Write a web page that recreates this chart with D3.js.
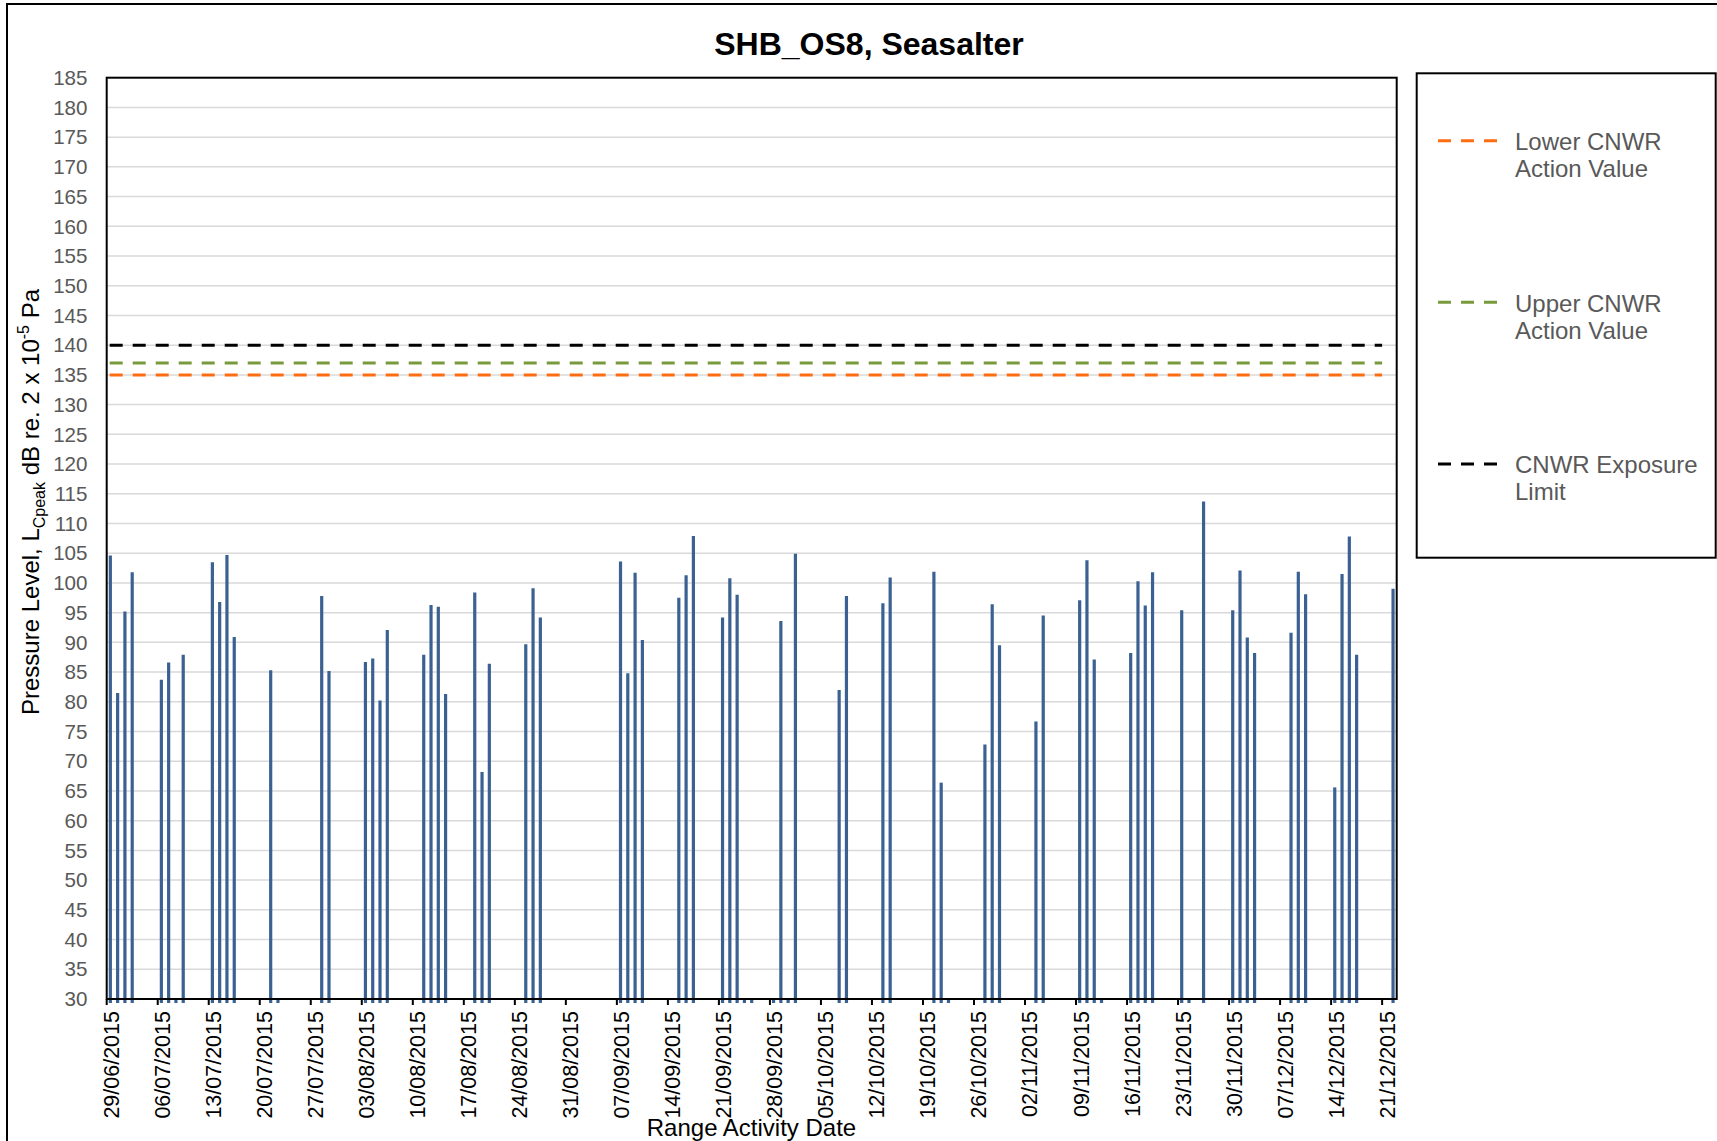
<!DOCTYPE html>
<html>
<head>
<meta charset="utf-8">
<script src="https://cdn.jsdelivr.net/npm/d3@7"></script>
<style>
  body { margin: 0; background: #fff; }
  svg { display: block; font-family: "Liberation Sans", Arial, sans-serif; }
</style>
</head>
<body>
<div id="chart"></div>
<script>
// Daily peak readings (dB) on days with range activity
const activityDates = [
  '2015-06-29', '2015-06-30', '2015-07-01', '2015-07-02', '2015-07-06', '2015-07-07', '2015-07-09',
  '2015-07-13', '2015-07-14', '2015-07-15', '2015-07-16', '2015-07-21', '2015-07-28', '2015-07-29',
  '2015-08-03', '2015-08-04', '2015-08-05', '2015-08-06', '2015-08-11', '2015-08-12', '2015-08-13',
  '2015-08-14', '2015-08-18', '2015-08-19', '2015-08-20', '2015-08-25', '2015-08-26', '2015-08-27',
  '2015-09-07', '2015-09-08', '2015-09-09', '2015-09-10', '2015-09-15', '2015-09-16', '2015-09-17',
  '2015-09-21', '2015-09-22', '2015-09-23', '2015-09-29', '2015-10-01', '2015-10-07', '2015-10-08',
  '2015-10-13', '2015-10-14', '2015-10-20', '2015-10-21', '2015-10-27', '2015-10-28', '2015-10-29',
  '2015-11-03', '2015-11-04', '2015-11-09', '2015-11-10', '2015-11-11', '2015-11-16', '2015-11-17',
  '2015-11-18', '2015-11-19', '2015-11-23', '2015-11-26', '2015-11-30', '2015-12-01', '2015-12-02',
  '2015-12-03', '2015-12-08', '2015-12-09', '2015-12-10', '2015-12-14', '2015-12-15', '2015-12-16',
  '2015-12-17', '2015-12-22'
];
const peakLevels = [
  104.6, 81.5, 95.2, 101.8, 83.7, 86.6, 87.9,
  103.5, 96.8, 104.7, 90.9, 85.3, 97.8, 85.2,
  86.7, 87.3, 80.2, 92.1, 87.9, 96.3, 96.0,
  81.3, 98.4, 68.2, 86.4, 89.7, 99.1, 94.2,
  103.6, 84.8, 101.7, 90.4, 97.5, 101.3, 107.9,
  94.2, 100.8, 98.0, 93.6, 104.9, 82.0, 97.8,
  96.6, 100.9, 101.9, 66.4, 72.8, 96.4, 89.5,
  76.7, 94.5, 97.1, 103.8, 87.1, 88.2, 100.3,
  96.2, 101.8, 95.4, 113.7, 95.4, 102.1, 90.8,
  88.2, 91.6, 101.9, 98.1, 65.6, 101.5, 107.8,
  87.9, 99.0
];
// days logged with no reading (drawn as stubs below the axis)
const quietDates = ['2015-07-08', '2015-07-22', '2015-09-24', '2015-09-25', '2015-09-28', '2015-09-30',
  '2015-10-22', '2015-11-12', '2015-11-24'];

const tickLabels = ['29/06/2015', '06/07/2015', '13/07/2015', '20/07/2015', '27/07/2015', '03/08/2015',
  '10/08/2015', '17/08/2015', '24/08/2015', '31/08/2015', '07/09/2015', '14/09/2015', '21/09/2015',
  '28/09/2015', '05/10/2015', '12/10/2015', '19/10/2015', '26/10/2015', '02/11/2015', '09/11/2015',
  '16/11/2015', '23/11/2015', '30/11/2015', '07/12/2015', '14/12/2015', '21/12/2015'];
const yTickValues = [30, 35, 40, 45, 50, 55, 60, 65, 70, 75, 80, 85, 90, 95, 100, 105,
  110, 115, 120, 125, 130, 135, 140, 145, 150, 155, 160, 165, 170, 175, 180, 185];

const limitNames = [['Lower CNWR', 'Action Value'], ['Upper CNWR', 'Action Value'], ['CNWR Exposure', 'Limit']];
const limitValues = [135, 137, 140];
const limitColors = ['#ff6d12', '#789a3d', '#000000'];
const limitStart = '2015-06-29';
const limitEnd = '2015-12-21';

const axisStart = '2015-06-29';
const axisEnd = '2015-12-23';

// Set up the dimensions
const W = 1717, H = 1141;
const plot = { left: 106.7, top: 77.7, right: 1396.7, bottom: 999 };
const barColor = '#3a6192';

const parseDay = d3.utcParse('%Y-%m-%d');
const parseLabel = d3.utcParse('%d/%m/%Y');
const halfDay = 12 * 3600 * 1000;

const x = d3.scaleUtc()
    .domain([parseDay(axisStart), parseDay(axisEnd)])
    .range([plot.left, plot.right]);
const y = d3.scaleLinear()
    .domain([30, 185])
    .range([plot.bottom, plot.top]);

const svg = d3.select('#chart').append('svg')
    .attr('width', W)
    .attr('height', H);

svg.append('rect').attr('width', W).attr('height', H).attr('fill', '#fff');

// outer chart border (runs off the right and bottom edges)
svg.append('rect')
    .attr('x', 7).attr('y', 4)
    .attr('width', W + 20).attr('height', H + 20)
    .attr('fill', 'none')
    .attr('stroke', '#000')
    .attr('stroke-width', 2);

// title
svg.append('text')
    .attr('x', 869).attr('y', 55)
    .attr('text-anchor', 'middle')
    .attr('font-size', '32px')
    .attr('font-weight', 'bold')
    .attr('fill', '#000')
    .text('SHB_OS8, Seasalter');

// gridlines
svg.append('g')
    .selectAll('line')
    .data(yTickValues.filter(v => v > 30 && v < 185))
    .join('line')
    .attr('x1', plot.left).attr('x2', plot.right)
    .attr('y1', d => y(d)).attr('y2', d => y(d))
    .attr('stroke', '#d9d9d9')
    .attr('stroke-width', 1.5);

// y tick labels
svg.append('g')
    .selectAll('text')
    .data(yTickValues)
    .join('text')
    .attr('x', 87.5)
    .attr('y', d => y(d))
    .attr('dy', '0.35em')
    .attr('text-anchor', 'end')
    .attr('font-size', '20.6px')
    .attr('fill', '#595959')
    .text(d => d);

// limit lines
svg.append('g')
    .selectAll('line')
    .data(limitValues)
    .join('line')
    .attr('x1', x(parseDay(limitStart)) + 3)
    .attr('x2', x(parseDay(limitEnd)))
    .attr('y1', d => y(d)).attr('y2', d => y(d))
    .attr('stroke', (d, i) => limitColors[i])
    .attr('stroke-width', 3)
    .attr('stroke-dasharray', '13,10');

// readings, each a thin column from the axis
const readings = activityDates.map((d, i) => ({ date: parseDay(d), value: peakLevels[i] }))
    .concat(quietDates.map(d => ({ date: parseDay(d), value: 0 })));

svg.append('g')
    .selectAll('line')
    .data(readings)
    .join('line')
    .attr('x1', d => x(+d.date + halfDay))
    .attr('x2', d => x(+d.date + halfDay))
    .attr('y1', plot.bottom + 4)
    .attr('y2', d => y(Math.max(30, d.value)))
    .attr('stroke', barColor)
    .attr('stroke-width', 3.2);

// plot area border
svg.append('rect')
    .attr('x', plot.left).attr('y', plot.top)
    .attr('width', plot.right - plot.left)
    .attr('height', plot.bottom - plot.top)
    .attr('fill', 'none')
    .attr('stroke', '#000')
    .attr('stroke-width', 2);

// x ticks and labels
const xTicks = svg.append('g')
    .selectAll('g')
    .data(tickLabels)
    .join('g');

xTicks.append('line')
    .attr('x1', d => x(parseLabel(d))).attr('x2', d => x(parseLabel(d)))
    .attr('y1', plot.bottom).attr('y2', plot.bottom + 6)
    .attr('stroke', '#000')
    .attr('stroke-width', 2);

xTicks.append('text')
    .attr('transform', d => `translate(${x(parseLabel(d))},1011) rotate(-90)`)
    .attr('dy', '0.58em')
    .attr('text-anchor', 'end')
    .attr('font-size', '21.5px')
    .attr('fill', '#000')
    .text(d => d);

// axis titles
svg.append('text')
    .attr('x', 751.5).attr('y', 1136)
    .attr('text-anchor', 'middle')
    .attr('font-size', '24px')
    .attr('fill', '#000')
    .text('Range Activity Date');

const yTitle = svg.append('text')
    .attr('transform', 'translate(38.5,502) rotate(-90)')
    .attr('text-anchor', 'middle')
    .attr('font-size', '24px')
    .attr('fill', '#000');
yTitle.append('tspan').text('Pressure Level, L');
yTitle.append('tspan').attr('font-size', '16px').attr('dy', 6).text('Cpeak');
yTitle.append('tspan').attr('dy', -6).text(' dB re. 2 x 10');
yTitle.append('tspan').attr('font-size', '16px').attr('dy', -10).text('-5');
yTitle.append('tspan').attr('dy', 10).text(' Pa');

// legend
const legend = svg.append('g');
legend.append('rect')
    .attr('x', 1416.7).attr('y', 73.3)
    .attr('width', 299).attr('height', 484.4)
    .attr('fill', '#fff')
    .attr('stroke', '#000')
    .attr('stroke-width', 2);

const legendY = [140.7, 302.3, 464];
limitNames.forEach((name, i) => {
    legend.append('line')
        .attr('x1', 1438).attr('x2', 1498)
        .attr('y1', legendY[i]).attr('y2', legendY[i])
        .attr('stroke', limitColors[i])
        .attr('stroke-width', 3)
        .attr('stroke-dasharray', '13,10');
    const t = legend.append('text')
        .attr('x', 1515)
        .attr('y', legendY[i] + 9.3)
        .attr('font-size', '24px')
        .attr('fill', '#595959');
    name.forEach((line, j) => {
        t.append('tspan').attr('x', 1515).attr('dy', j ? 27 : 0).text(line);
    });
});
</script>
</body>
</html>
